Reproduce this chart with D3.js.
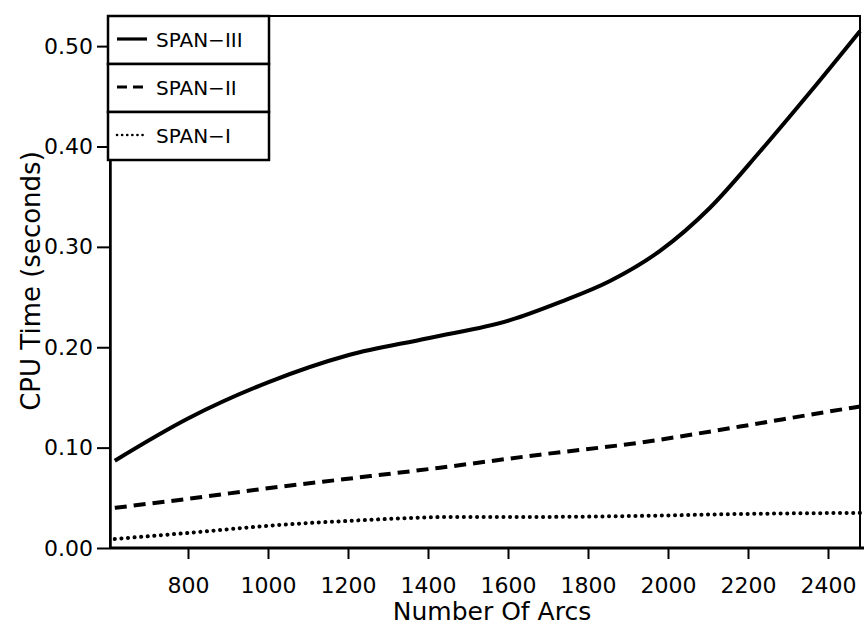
<!DOCTYPE html>
<html>
<head>
<meta charset="utf-8">
<script src="https://cdn.jsdelivr.net/npm/d3@7"></script>
<style>
  body { margin: 0; background: #fff; }
  text { font-family: 'DejaVu Sans', sans-serif; fill: #000; }
</style>
</head>
<body>
<div class="svgContainer"></div>
<script>
const WIDTH = 864;
const HEIGHT = 628;
const LEFT = 110, RIGHT = 860, TOP = 16, BOTTOM = 548;

// values
const spanIIIArcs = [617, 800, 1000, 1200, 1400, 1605, 1730, 1855, 1980, 2105, 2230, 2355, 2480];
const spanIIITime = [0.087, 0.129, 0.165, 0.192, 0.209, 0.227, 0.245, 0.266, 0.296, 0.339, 0.395, 0.454, 0.515];
const spanIIArcs = [617, 800, 1030, 1200, 1430, 1680, 1930, 2180, 2388, 2480];
const spanIITime = [0.040, 0.049, 0.061, 0.069, 0.080, 0.093, 0.105, 0.121, 0.135, 0.141];
const spanIArcs = [617, 800, 1030, 1200, 1480, 1700, 1930, 2200, 2480];
const spanITime = [0.009, 0.015, 0.023, 0.027, 0.031, 0.031, 0.032, 0.034, 0.035];

const xTicks = [800, 1000, 1200, 1400, 1600, 1800, 2000, 2200, 2400];
const yTicks = [0.00, 0.10, 0.20, 0.30, 0.40, 0.50];
const seriesNames = ['SPAN-III', 'SPAN-II', 'SPAN-I'];

const series = [
    { name: seriesNames[0], dash: null, legendDash: null, width: 4, pts: spanIIIArcs.map((a, i) => [a, spanIIITime[i]]) },
    { name: seriesNames[1], dash: '12,7', legendDash: '10,6', width: 4, pts: spanIIArcs.map((a, i) => [a, spanIITime[i]]) },
    { name: seriesNames[2], dash: '0.1,6.5', legendDash: '0.1,5', width: 4, cap: 'round', pts: spanIArcs.map((a, i) => [a, spanITime[i]]) }
];

const svg = d3.select('.svgContainer')
.append('svg')
.attr('width', WIDTH)
.attr('height', HEIGHT);

const xScale = d3.scaleLinear()
.domain([605, 2480])
.range([LEFT, RIGHT]);

const yScale = d3.scaleLinear()
.domain([0, 0.53])
.range([BOTTOM, TOP]);

const line = d3.line()
.x(d => xScale(d[0]))
.y(d => yScale(d[1]))
.curve(d3.curveMonotoneX);

svg.selectAll('path.series')
.data(series)
.enter()
.append('path')
.attr('class', 'series')
.attr('d', d => line(d.pts))
.attr('fill', 'none')
.attr('stroke', '#000')
.attr('stroke-width', d => d.width)
.attr('stroke-linecap', d => d.cap || 'butt')
.attr('stroke-dasharray', d => d.dash);

// frame
svg.append('rect')
.attr('x', LEFT)
.attr('y', TOP)
.attr('width', RIGHT - LEFT)
.attr('height', BOTTOM - TOP)
.attr('fill', 'none')
.attr('stroke', '#000')
.attr('stroke-width', 2);

const xAxis = d3.axisBottom(xScale).tickValues(xTicks).tickSize(11).tickPadding(18).tickSizeOuter(0).tickFormat(d3.format('d'));
const yAxis = d3.axisLeft(yScale).tickValues(yTicks).tickSize(13).tickPadding(4).tickSizeOuter(0).tickFormat(d3.format('.2f'));

const gx = svg.append('g')
.attr('transform', `translate(0, ${BOTTOM})`)
.call(xAxis);
gx.select('.domain').attr('stroke-width', 3).attr('d', `M${LEFT},0H${WIDTH}`);

const gy = svg.append('g')
.attr('transform', `translate(${LEFT}, 0)`)
.call(yAxis);
gy.select('.domain').attr('stroke-width', 2.5);

svg.selectAll('.tick line').attr('stroke-width', 2);
svg.selectAll('.tick text')
.style('font-size', '22px')
.attr('fill', '#000');

// legend, one boxed cell per series
const legend = svg.append('g').attr('id', 'legend');
const CELL_X = 108, CELL_W = 161, CELL_H = 48;

const cells = legend.selectAll('g')
.data(series)
.enter()
.append('g')
.attr('transform', (d, i) => `translate(${CELL_X}, ${TOP + i * CELL_H})`);

cells.append('rect')
.attr('width', CELL_W)
.attr('height', CELL_H)
.attr('fill', '#fff')
.attr('stroke', '#000')
.attr('stroke-width', 2.5);

cells.append('line')
.attr('x1', 9)
.attr('x2', 39)
.attr('y1', CELL_H / 2 - 1)
.attr('y2', CELL_H / 2 - 1)
.attr('stroke', '#000')
.attr('stroke-width', d => d.cap ? 2.6 : 3.2)
.attr('stroke-linecap', d => d.cap || 'butt')
.attr('stroke-dasharray', d => d.legendDash);

cells.append('text')
.attr('x', 48)
.attr('y', CELL_H / 2 + 7)
.style('font-size', '20px')
.text(d => d.name.replace('-', '\u2212'));

svg.append('text')
.attr('text-anchor', 'middle')
.attr('x', 492)
.attr('y', 620)
.style('font-size', '25px')
.text('Number Of Arcs');

svg.append('text')
.attr('text-anchor', 'middle')
.attr('transform', 'translate(40, 281) rotate(-90)')
.style('font-size', '26px')
.text('CPU Time (seconds)');
</script>
</body>
</html>
